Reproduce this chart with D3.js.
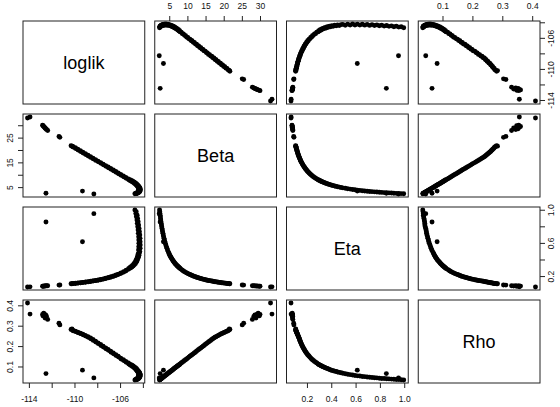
<!DOCTYPE html>
<html><head><meta charset="utf-8">
<script src="https://cdn.jsdelivr.net/npm/d3@7"></script>
<style>body{margin:0;background:#fff}svg{display:block}</style>
</head><body>
<svg id="chart" width="560" height="407"></svg>
<script>
// Variable names in panel order
const varNames = ["loglik", "Beta", "Eta", "Rho"];

// Posterior samples, one entry per draw (same order in every array)
const loglik = [
  -104.70,-104.58,-104.62,-104.50,-104.57,-104.46,-104.52,-104.41,-104.49,-104.37,
  -104.45,-104.33,-104.42,-104.30,-104.40,-104.27,-104.37,-104.25,-104.36,-104.24,
  -104.35,-104.23,-104.36,-104.24,-104.38,-104.27,
  -104.30,-104.42,-104.34,-104.46,-104.39,-104.52,-104.45,-104.58,-104.51,-104.65,
  -104.58,-104.73,-104.66,-104.81,-104.75,-104.91,-104.85,-105.01,-104.96,-105.13,
  -105.08,-105.24,
  -105.27,-105.46,-105.50,-105.68,-105.72,-105.91,-105.95,-106.13,-106.17,-106.35,
  -106.38,-106.57,-106.60,-106.79,-106.83,-107.02,-107.05,-107.24,-107.27,-107.46,
  -107.49,-107.68,-107.71,-107.90,-107.94,-108.13,-108.16,-108.35,-108.38,-108.57,
  -108.60,-108.79,-108.82,-109.01,-109.05,-109.24,-109.27,-109.46,-109.49,-109.68,
  -109.71,-109.90,-109.93,-110.12,
  -110.15,-110.22,-110.30,-111.28,-111.36,-112.35,-112.45,-112.52,-112.58,-112.64,
  -112.70,-112.76,-112.80,-113.90,-114.12,
  -112.50,-109.30,-108.30
];
const beta = [
  2.33,2.39,2.44,2.49,2.55,2.60,2.66,2.73,2.79,2.86,
  2.93,3.01,3.09,3.17,3.26,3.35,3.45,3.56,3.67,3.79,
  3.92,4.05,4.20,4.36,4.52,4.71,
  4.85,5.00,5.15,5.30,5.45,5.60,5.75,5.90,6.05,6.20,
  6.35,6.50,6.65,6.80,6.95,7.10,7.25,7.40,7.55,7.70,
  7.85,8.00,
  8.3,8.6,8.9,9.2,9.5,9.8,10.1,10.4,10.7,11.0,
  11.3,11.6,11.9,12.2,12.5,12.8,13.1,13.4,13.7,14.0,
  14.3,14.6,14.9,15.2,15.5,15.8,16.1,16.4,16.7,17.0,
  17.3,17.6,17.9,18.2,18.5,18.8,19.1,19.4,19.7,20.0,
  20.3,20.6,20.9,21.2,
  21.40,21.55,21.70,25.10,25.50,27.90,28.30,28.60,28.90,29.20,
  29.50,29.80,30.00,33.30,32.90,
  2.50,3.40,2.25
];
const eta = [
  0.996,0.975,0.955,0.935,0.915,0.895,0.875,0.855,0.835,0.815,
  0.795,0.775,0.755,0.735,0.715,0.695,0.675,0.655,0.635,0.615,
  0.595,0.575,0.555,0.535,0.515,0.495,
  0.480,0.466,0.452,0.440,0.428,0.416,0.405,0.395,0.385,0.376,
  0.367,0.358,0.350,0.343,0.335,0.328,0.321,0.315,0.309,0.303,
  0.297,0.291,
  0.281,0.271,0.262,0.253,0.245,0.238,0.231,0.224,0.218,0.212,
  0.206,0.201,0.196,0.191,0.186,0.182,0.178,0.174,0.170,0.166,
  0.163,0.160,0.156,0.153,0.150,0.147,0.145,0.142,0.140,0.137,
  0.135,0.132,0.130,0.128,0.126,0.124,0.122,0.120,0.118,0.117,
  0.115,0.113,0.111,0.110,
  0.109,0.108,0.107,0.093,0.091,0.084,0.083,0.082,0.081,0.080,
  0.079,0.078,0.077,0.070,0.069,
  0.853,0.614,0.953
];
const rho = [
  0.034,0.035,0.036,0.036,0.037,0.038,0.039,0.040,0.041,0.041,
  0.042,0.044,0.045,0.046,0.047,0.048,0.050,0.051,0.053,0.054,
  0.056,0.058,0.060,0.062,0.064,0.067,
  0.069,0.071,0.073,0.075,0.077,0.079,0.081,0.083,0.085,0.088,
  0.090,0.092,0.094,0.096,0.098,0.100,0.102,0.104,0.106,0.108,
  0.110,0.112,
  0.117,0.121,0.125,0.129,0.133,0.137,0.141,0.146,0.150,0.154,
  0.158,0.162,0.166,0.170,0.175,0.179,0.183,0.187,0.191,0.195,
  0.199,0.203,0.208,0.212,0.216,0.220,0.224,0.228,0.232,0.236,
  0.240,0.243,0.246,0.249,0.252,0.255,0.258,0.261,0.263,0.266,
  0.268,0.271,0.273,0.275,
  0.278,0.284,0.281,0.304,0.312,0.331,0.345,0.353,0.338,0.357,
  0.361,0.348,0.355,0.357,0.411,
  0.065,0.082,0.044
];

// Axis ticks and which of them carry a label (per side)
const ticksLoglik = [-114, -112, -110, -108, -106, -104];
const ticksBeta   = [5, 10, 15, 20, 25, 30];
const ticksEta    = [0.2, 0.4, 0.6, 0.8, 1.0];
const ticksRho    = [0.1, 0.2, 0.3, 0.4];
const labelsLoglik = [-114, -110, -106];
const labelsBetaTop = [5, 10, 15, 20, 25, 30];
const labelsBetaLeft = [5, 15, 25];
const labelsEtaBottom = [0.2, 0.4, 0.6, 0.8, 1.0];
const labelsEtaRight = [0.2, 0.6, 1.0];
const labelsRho = [0.1, 0.2, 0.3, 0.4];

const series = { loglik: loglik, Beta: beta, Eta: eta, Rho: rho };

// Layout of the 4x4 grid
const gridLeft = 23, gridRight = 540, gridTop = 21, gridBottom = 383, gap = 10;
const n = varNames.length;
const cw = (gridRight - gridLeft - gap * (n - 1)) / n;
const rh = (gridBottom - gridTop - gap * (n - 1)) / n;
const colX = j => gridLeft + j * (cw + gap);
const rowY = i => gridTop + i * (rh + gap);

// Data range widened by 4% on each side
function padded(v) {
  const [a, b] = d3.extent(v);
  const p = (b - a) * 0.04;
  return [a - p, b + p];
}
const xScale = varNames.map((v, j) => d3.scaleLinear().domain(padded(series[v])).range([colX(j), colX(j) + cw]));
const yScale = varNames.map((v, i) => d3.scaleLinear().domain(padded(series[v])).range([rowY(i) + rh, rowY(i)]));

const svg = d3.select("#chart");
const font = "Liberation Sans, Arial, Helvetica, sans-serif";

function labelFn(shown, decimals) {
  return v => shown.some(s => Math.abs(s - v) < 1e-9)
    ? (decimals ? d3.format("." + decimals + "f")(v) : String(v)) : "";
}

const points = loglik.map((_, k) => k);

for (let i = 0; i < n; i++) {
  for (let j = 0; j < n; j++) {
    const g = svg.append("g");
    const x0 = colX(j), y0 = rowY(i);
    if (i === j) {
      g.append("text")
        .attr("x", x0 + cw / 2).attr("y", y0 + rh / 2)
        .attr("text-anchor", "middle").attr("dominant-baseline", "central")
        .attr("font-family", font).attr("font-size", 18)
        .text(varNames[i]);
    } else {
      const xs = xScale[j], ys = yScale[i];
      const xv = series[varNames[j]], yv = series[varNames[i]];
      g.selectAll("circle").data(points).join("circle")
        .attr("cx", k => xs(xv[k])).attr("cy", k => ys(yv[k]))
        .attr("r", 2.45).attr("fill", "#000");
    }
    g.append("rect")
      .attr("x", x0).attr("y", y0).attr("width", cw).attr("height", rh)
      .attr("fill", "none").attr("stroke", "#222").attr("stroke-width", 1);
  }
}

// Axes on alternating outer sides
function styleAxis(sel) {
  sel.select(".domain").remove();
  sel.selectAll(".tick line").attr("stroke", "#222");
  sel.selectAll(".tick text").attr("fill", "#111").attr("font-family", font).attr("font-size", 8.5);
}
function inDomain(ticks, scale) {
  const [a, b] = scale.domain();
  return ticks.filter(t => t >= Math.min(a, b) && t <= Math.max(a, b));
}

// bottom: loglik (col 0), Eta (col 2)
[[0, ticksLoglik, labelFn(labelsLoglik)], [2, ticksEta, labelFn(labelsEtaBottom, 1)]].forEach(([j, t, f]) => {
  const a = svg.append("g").attr("transform", `translate(0,${gridBottom})`)
    .call(d3.axisBottom(xScale[j]).tickValues(inDomain(t, xScale[j])).tickFormat(f).tickSize(5).tickPadding(7.5));
  styleAxis(a);
});
// top: Beta (col 1), Rho (col 3)
[[1, ticksBeta, labelFn(labelsBetaTop)], [3, ticksRho, labelFn(labelsRho, 1)]].forEach(([j, t, f]) => {
  const a = svg.append("g").attr("transform", `translate(0,${gridTop})`)
    .call(d3.axisTop(xScale[j]).tickValues(inDomain(t, xScale[j])).tickFormat(f).tickSize(5).tickPadding(7.5));
  styleAxis(a);
});
// left: Beta (row 1), Rho (row 3), rotated labels
[[1, ticksBeta, labelFn(labelsBetaLeft)], [3, ticksRho, labelFn(labelsRho, 1)]].forEach(([i, t, f]) => {
  const a = svg.append("g").attr("transform", `translate(${gridLeft},0)`)
    .call(d3.axisLeft(yScale[i]).tickValues(inDomain(t, yScale[i])).tickFormat(f).tickSize(5).tickPadding(6));
  styleAxis(a);
  a.selectAll(".tick text").attr("text-anchor", "middle").attr("dy", 0)
    .attr("x", 0).attr("y", 0).attr("transform", "translate(-10,0) rotate(-90)");
});
// right: loglik (row 0), Eta (row 2)
[[0, ticksLoglik, labelFn(labelsLoglik)], [2, ticksEta, labelFn(labelsEtaRight, 1)]].forEach(([i, t, f]) => {
  const a = svg.append("g").attr("transform", `translate(${gridRight},0)`)
    .call(d3.axisRight(yScale[i]).tickValues(inDomain(t, yScale[i])).tickFormat(f).tickSize(5).tickPadding(6));
  styleAxis(a);
  a.selectAll(".tick text").attr("text-anchor", "middle").attr("dy", 0)
    .attr("x", 0).attr("y", 0).attr("transform", "translate(14,0) rotate(-90)");
});
</script>
</body></html>
